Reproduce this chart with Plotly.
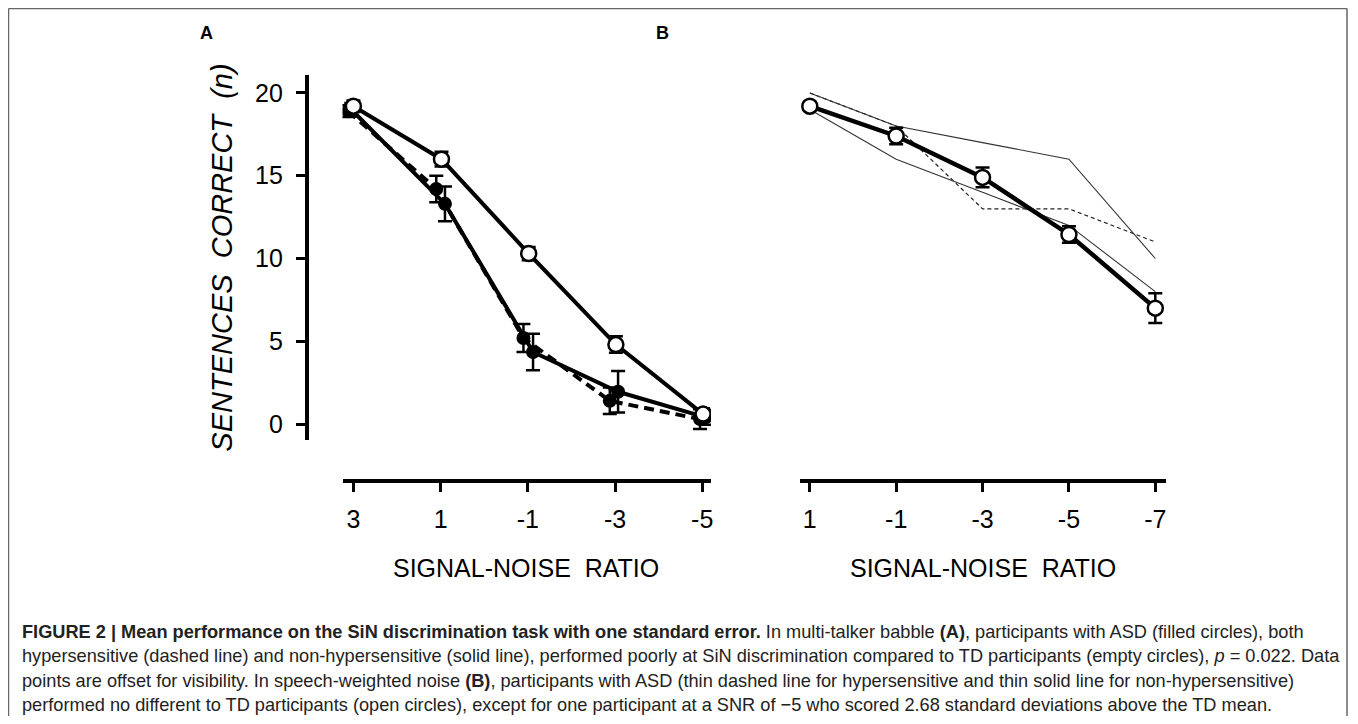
import plotly.graph_objects as go

PAGE_W, PAGE_H = 1358, 724
OFF = 8  # browser body margin
W, H = PAGE_W - 2 * OFF, PAGE_H - 2 * OFF

# ---------------- data ----------------
snr_a = [3, 1, -1, -3, -5]
snr_b = [1, -1, -3, -5, -7]

# Panel A (multi-talker babble) – x offsets for visibility
td_a_x = [3.0, 0.98, -1.02, -3.02, -5.02]
td_a = [19.2, 16.0, 10.3, 4.8, 0.6]
td_a_err = [0.35, 0.45, 0.4, 0.5, 0.35]

hyp_a_x = [3.12, 1.1, -0.9, -2.88, -4.95]
hyp_a = [18.9, 14.2, 5.2, 1.4, 0.3]
hyp_a_err = [0.35, 0.8, 0.85, 0.8, 0.6]

non_a_x = [3.05, 0.9, -1.12, -3.07, -5.08]
non_a = [19.0, 13.3, 4.35, 1.95, 0.4]
non_a_err = [0.4, 1.05, 1.1, 1.25, 0.45]

# Panel B (speech-weighted noise)
td_b = [19.2, 17.4, 14.9, 11.45, 7.0]
td_b_err = [0.25, 0.5, 0.6, 0.5, 0.9]
hyp_b = [20, 18, 13, 13, 11]
non_b1 = [20, 18, 17, 16, 10]
non_b2 = [19, 16, 14, 12, 8]

y_ticks = [0, 5, 10, 15, 20]

caption_lines = [
    "<b>FIGURE 2 | Mean performance on the SiN discrimination task with one standard error.</b> In multi-talker babble <b>(A)</b>, participants with ASD (filled circles), both",
    "hypersensitive (dashed line) and non-hypersensitive (solid line), performed poorly at SiN discrimination compared to TD participants (empty circles), <i>p</i> = 0.022. Data",
    "points are offset for visibility. In speech-weighted noise <b>(B)</b>, participants with ASD (thin dashed line for hypersensitive and thin solid line for non-hypersensitive)",
    "performed no different to TD participants (open circles), except for one participant at a SNR of \u22125 who scored 2.68 standard deviations above the TD mean.",
]

# ---------------- helpers (page pixel -> paper fraction) ----------------
def px(x):
    return (x - OFF) / W

def py(y):
    return 1 - (y - OFF) / H

FONT = "Liberation Sans, Arial, sans-serif"

fig = go.Figure()

def err(arr):
    return dict(type="data", array=arr, color="black", thickness=2.5, width=7, visible=True)

# Panel A traces
fig.add_trace(go.Scatter(x=hyp_a_x, y=hyp_a, mode="lines+markers", xaxis="x", yaxis="y",
                         line=dict(color="black", width=4, dash="10px,6px"),
                         marker=dict(color="black", size=14),
                         error_y=err(hyp_a_err), showlegend=False))
fig.add_trace(go.Scatter(x=non_a_x, y=non_a, mode="lines+markers", xaxis="x", yaxis="y",
                         line=dict(color="black", width=4),
                         marker=dict(color="black", size=14),
                         error_y=err(non_a_err), showlegend=False))
fig.add_trace(go.Scatter(x=td_a_x, y=td_a, mode="lines+markers", xaxis="x", yaxis="y",
                         line=dict(color="black", width=4),
                         marker=dict(color="white", size=15, line=dict(color="black", width=2.5)),
                         error_y=err(td_a_err), showlegend=False))

# Panel B traces
fig.add_trace(go.Scatter(x=snr_b, y=hyp_b, mode="lines", xaxis="x2", yaxis="y2",
                         line=dict(color="#222", width=1.2, dash="4px,3px"), showlegend=False))
fig.add_trace(go.Scatter(x=snr_b, y=non_b1, mode="lines", xaxis="x2", yaxis="y2",
                         line=dict(color="#333", width=1.1), showlegend=False))
fig.add_trace(go.Scatter(x=snr_b, y=non_b2, mode="lines", xaxis="x2", yaxis="y2",
                         line=dict(color="#333", width=1.1), showlegend=False))
fig.add_trace(go.Scatter(x=snr_b, y=td_b, mode="lines+markers", xaxis="x2", yaxis="y2",
                         line=dict(color="black", width=4.5),
                         marker=dict(color="white", size=15, line=dict(color="black", width=2.5)),
                         error_y=err(td_b_err), showlegend=False))

tickfont = dict(family=FONT, size=25, color="black")
axis_common = dict(showgrid=False, zeroline=False, showline=True, linecolor="black",
                   linewidth=3.5, ticks="outside", ticklen=9, tickwidth=3,
                   tickcolor="black", tickfont=tickfont)

y_top, y_bot = 75, 440
y_range = [-(y_bot - 424) / 16.6, 20 + (93 - y_top) / 16.6]

fig.update_layout(
    width=W, height=H,
    margin=dict(l=0, r=0, t=0, b=0),
    paper_bgcolor="white", plot_bgcolor="white",
    xaxis=dict(domain=[px(343), px(712)], range=[3.25, -5.2], tickvals=snr_a,
               ticktext=[str(v) for v in snr_a], anchor="free", position=py(481),
               ticklabelstandoff=6, **axis_common),
    yaxis=dict(domain=[py(y_bot), py(y_top)], range=y_range, tickvals=y_ticks,
               anchor="free", position=px(307), ticklabelstandoff=8, **axis_common),
    xaxis2=dict(domain=[px(801), px(1168)], range=[1.231, -7.254], tickvals=snr_b,
                ticktext=[str(v) for v in snr_b], anchor="free", position=py(481),
                ticklabelstandoff=6, **axis_common),
    yaxis2=dict(domain=[py(y_bot), py(y_top)], range=y_range, visible=False,
                anchor="x2"),
)

ann = []
ann.append(dict(text="<i>SENTENCES  CORRECT  (n)</i>", x=px(222), y=py(258), xref="paper", yref="paper",
                textangle=-90, showarrow=False, xanchor="center", yanchor="middle",
                font=dict(family=FONT, size=29, color="black")))
for cx in (527, 984):
    ann.append(dict(text="SIGNAL-NOISE  RATIO", x=px(cx), y=py(568), xref="paper", yref="paper",
                    showarrow=False, xanchor="center", yanchor="middle",
                    font=dict(family=FONT, size=25, color="black")))
ann.append(dict(text="<b>A</b>", x=px(207), y=py(33), xref="paper", yref="paper", showarrow=False,
                xanchor="center", yanchor="middle", font=dict(family=FONT, size=18, color="black")))
ann.append(dict(text="<b>B</b>", x=px(663), y=py(33), xref="paper", yref="paper", showarrow=False,
                xanchor="center", yanchor="middle", font=dict(family=FONT, size=18, color="black")))
for i, line in enumerate(caption_lines):
    ann.append(dict(text=line, x=px(20), y=py(632 + i * 24.4), xref="paper", yref="paper",
                    showarrow=False, xanchor="left", yanchor="middle", align="left",
                    font=dict(family=FONT, size=18.2, color="#222")))
fig.update_layout(annotations=ann)

# frame: top, left and right edges
frame = dict(type="line", xref="paper", yref="paper", line=dict(color="#666", width=1.5))
fig.add_shape(x0=px(8.5), x1=px(1349), y0=py(8.5), y1=py(8.5), **frame)
fig.add_shape(x0=px(8.5), x1=px(8.5), y0=py(8.5), y1=0, **frame)
fig.add_shape(x0=px(1349), x1=px(1349), y0=py(8.5), y1=0, **frame)

fig.write_html("out.html")
